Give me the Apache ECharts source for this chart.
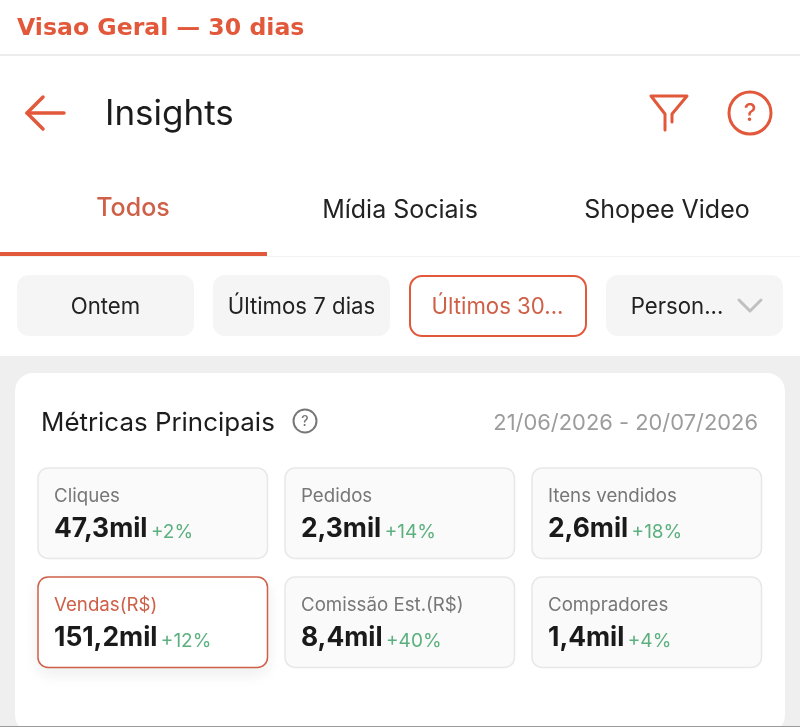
<!DOCTYPE html>
<html>
<head>
<meta charset="utf-8">
<style>html,body{margin:0;padding:0;background:#fff}#main{width:800px;height:727px}</style>
<script src="https://cdn.jsdelivr.net/npm/echarts@6/dist/echarts.min.js"></script>
</head>
<body>
<div id="main"></div>
<script>
var metricLabels = ['Cliques', 'Pedidos', 'Itens vendidos', 'Vendas(R$)', 'Comissão Est.(R$)', 'Compradores'];
var metricValues = ['47,3mil', '2,3mil', '2,6mil', '151,2mil', '8,4mil', '1,4mil'];
var metricDeltas = ['+2%', '+14%', '+18%', '+12%', '+40%', '+4%'];
var tabs = ['Todos', 'Mídia Sociais', 'Shopee Video'];
var chips = ['Ontem', 'Últimos 7 dias', 'Últimos 30...', 'Person...'];

var orange = '#e2583a';
var muted = '#cf6048';
var font = 'Inter';
var g = [];

function rect(x, y, w, h, r, fill, stroke, lw, extra) {
  var style = { fill: fill, stroke: stroke || null, lineWidth: lw || 0 };
  if (extra) Object.assign(style, extra);
  g.push({ type: 'rect', shape: { x: x, y: y, width: w, height: h, r: r }, style: style, silent: true });
}
function text(x, y, str, size, color, weight, align) {
  g.push({ type: 'text', x: x, y: y, silent: true, style: {
    text: str, fontFamily: font, fontSize: size, fill: color, fontWeight: weight || 400,
    align: align || 'left', verticalAlign: 'middle'
  } });
}
function line(points, color, lw) {
  g.push({ type: 'polyline', shape: { points: points }, silent: true,
    style: { stroke: color, lineWidth: lw, fill: null, lineCap: 'round', lineJoin: 'round' } });
}
function circle(cx, cy, r, color, lw) {
  g.push({ type: 'circle', shape: { cx: cx, cy: cy, r: r }, silent: true,
    style: { stroke: color, lineWidth: lw, fill: null } });
}

// backgrounds
rect(0, 54, 800, 2, 0, '#ececec');
rect(0, 256, 800, 1, 0, '#f2f2f2');
rect(0, 356, 800, 371, 0, '#efefef');
rect(15, 373, 770, 360, 18, '#ffffff');
rect(0, 726, 800, 1, 0, '#9a9a9a');

// header
line([[43, 97], [27, 113], [43, 129]], orange, 3.5);
line([[27, 113], [64, 113]], orange, 3.5);
text(105, 114, 'Insights', 35, '#1c1c1c');
line([[665, 130], [665, 114], [651, 96], [687, 96], [672, 114], [672, 122]], orange, 3);
circle(750, 113, 21, orange, 3);
text(750, 114, '?', 24, orange, 500, 'center');

// tabs
var tabX = [133, 400, 667];
tabs.forEach(function (t, i) {
  text(tabX[i], i === 0 ? 208 : 210, t, 25, i === 0 ? muted : '#222222', i === 0 ? 500 : 400, 'center');
});
rect(0, 252, 267, 4, 0, orange);

// chips
var chipX = [17, 213, 409, 606];
chips.forEach(function (c, i) {
  var active = i === 2;
  if (active) rect(chipX[i] + 1, 276, 176, 60, 12, '#fff', orange, 2);
  else rect(chipX[i], 275, 177, 61, 12, '#f5f5f5');
  var cx = i === 3 ? chipX[i] + 71 : chipX[i] + 88.5;
  text(cx, 307, c, 22.2, active ? muted : '#222222', 400, 'center');
});
line([[739, 300], [750, 311], [761, 300]], '#c0c0c0', 3);

// card title
text(41, 423, 'Métricas Principais', 25.9, '#1c1c1c');
circle(305, 421, 11.5, '#777777', 2);
text(305, 422, '?', 14, '#777777', 500, 'center');
text(758, 423, '21/06/2026 - 20/07/2026', 21.9, '#9c9c9c', 400, 'right');

// metric cards
var colX = [38, 285, 532];
var rowY = [468, 577];
metricLabels.forEach(function (label, i) {
  var x = colX[i % 3], y = rowY[Math.floor(i / 3)];
  var active = i === 3;
  if (active) {
    rect(x, y, 229.5, 90.5, 10, '#fff', muted, 1.5, {
      shadowBlur: 16, shadowColor: 'rgba(0,0,0,0.07)', shadowOffsetY: 6
    });
  } else {
    rect(x, y, 229.5, 90.5, 10, '#fafafa', '#e8e8e8', 1.5);
  }
  text(x + 16, y + 28, label, 18.7, active ? muted : '#777777');
  g.push({ type: 'text', x: x + 16, y: y + 61, silent: true, style: {
    text: '{v|' + metricValues[i] + '} {d|' + metricDeltas[i] + '}',
    verticalAlign: 'middle', fontFamily: font,
    rich: {
      v: { fontFamily: font, fontSize: 26.4, fontWeight: 700, fill: '#1a1a1a', color: '#1a1a1a' },
      d: { fontFamily: font, fontSize: 19, fill: '#5bb07e', color: '#5bb07e', verticalAlign: 'bottom' }
    }
  } });
});

var chart = echarts.init(document.getElementById('main'));
chart.setOption({
  animation: false,
  backgroundColor: '#ffffff',
  title: {
    text: 'Visao Geral — 30 dias', left: 17, top: 17, padding: 0,
    textStyle: { fontFamily: 'DejaVu Sans', fontSize: 23.6, fontWeight: 'bold', color: orange }
  },
  graphic: { elements: g }
});
</script>
</body>
</html>
